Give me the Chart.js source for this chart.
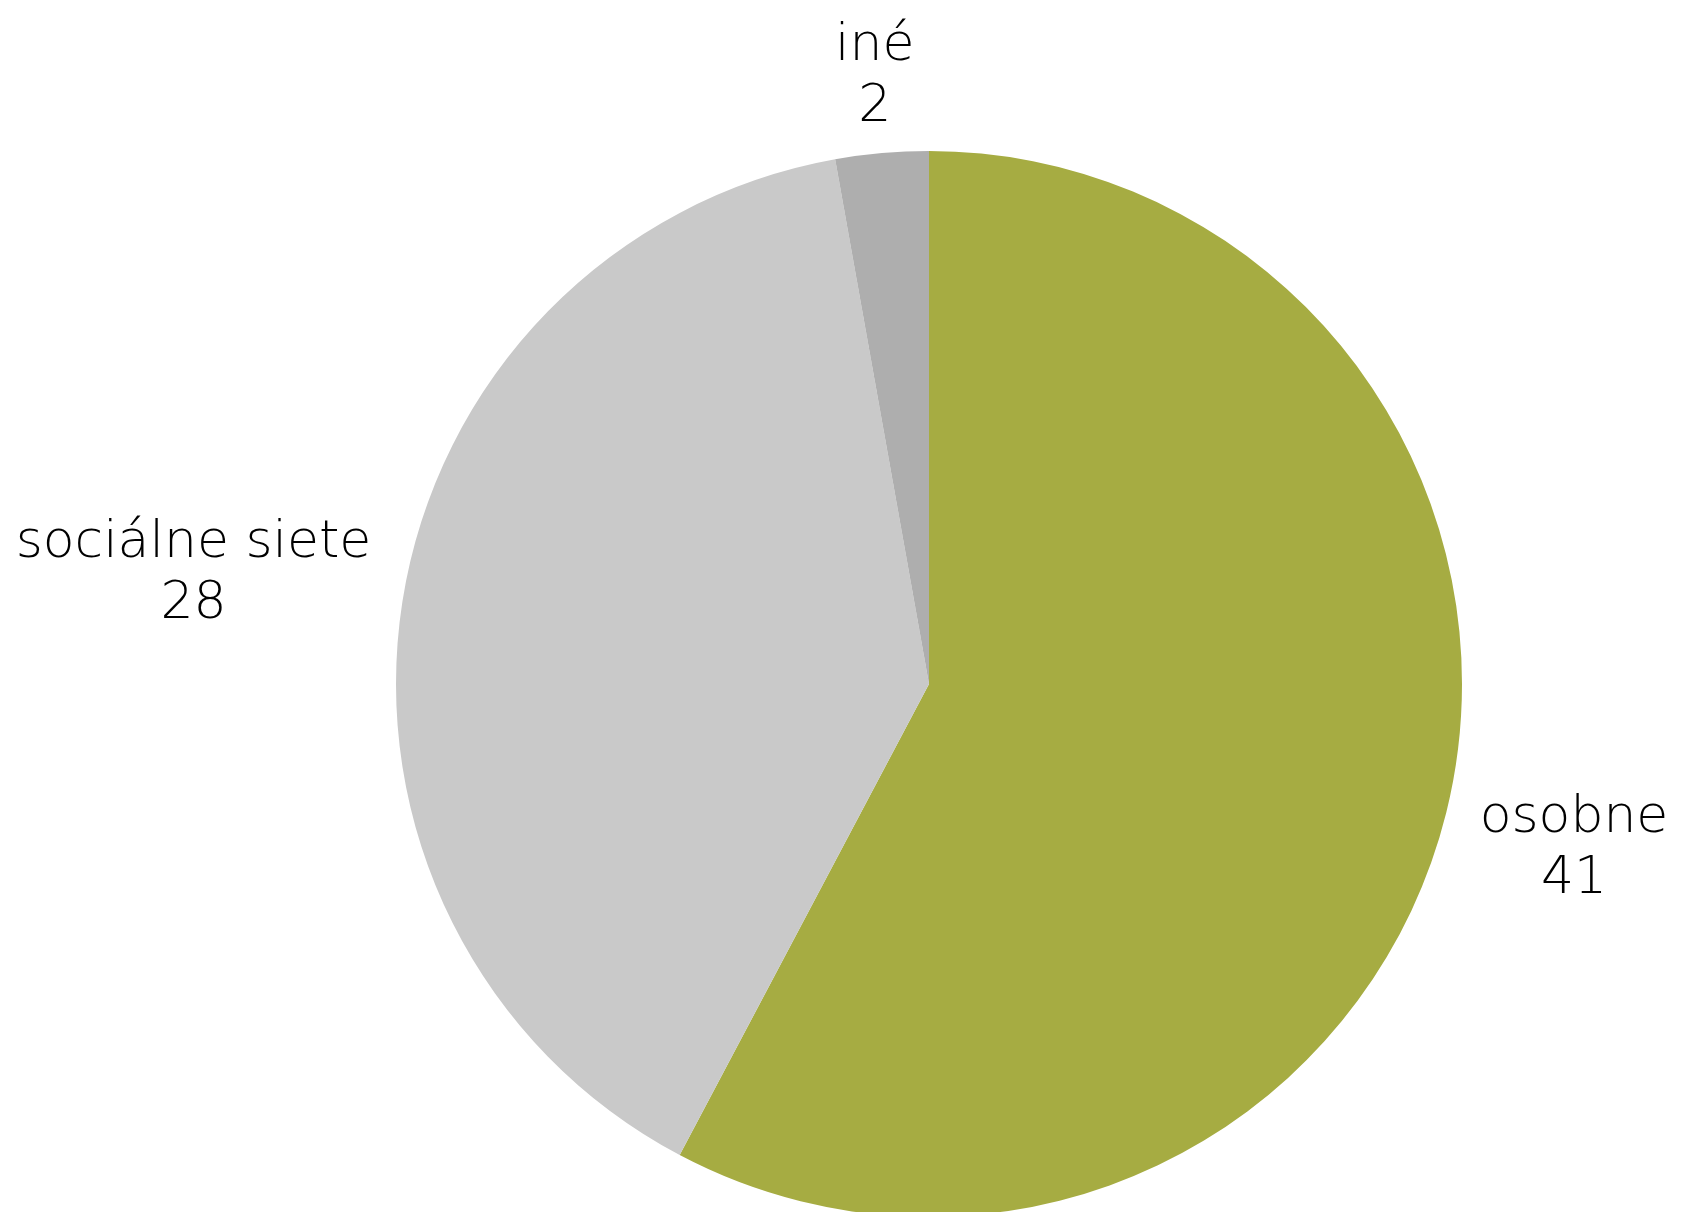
<!DOCTYPE html>
<html>
<head>
<meta charset="utf-8">
<script src="https://cdn.jsdelivr.net/npm/chart.js@4.4.0/dist/chart.umd.min.js"></script>
<style>
  html, body { margin: 0; padding: 0; background: #fff; overflow: hidden; }
  #wrap { width: 1682px; height: 1230px; }
</style>
</head>
<body>
<div id="wrap"><canvas id="graf" width="1682" height="1230"></canvas></div>
<script>
const kategorie = ['osobne', 'sociálne siete', 'iné'];
const hodnoty = [41, 28, 2];
const farby = ['#A6AC42', '#C9C9C9', '#AEAEAE'];

const fontLabel = '200 52px "DejaVu Sans", "Open Sans", sans-serif';

// popisky mimo kolac (nazov + hodnota)
const popiskyPlugin = {
    id: 'popisky',
    afterDatasetsDraw(chart) {
        const ctx = chart.ctx;
        const meta = chart.getDatasetMeta(0);
        ctx.save();
        ctx.font = fontLabel;
        ctx.fillStyle = '#000';
        ctx.textAlign = 'center';
        ctx.textBaseline = 'middle';
        const lineH = 61;
        meta.data.forEach((arc, i) => {
            const p = arc.getProps(['x', 'y', 'startAngle', 'endAngle', 'outerRadius'], true);
            const mid = (p.startAngle + p.endAngle) / 2;
            const lines = [kategorie[i], String(hodnoty[i])];
            const w = Math.max(...lines.map(l => ctx.measureText(l).width));
            const h = 100;
            const c = Math.cos(mid), s = Math.sin(mid);
            const ext = Math.abs(c) * w / 2 + Math.abs(s) * h / 2;
            const d = p.outerRadius + ext + 28;
            const cx = p.x + c * d;
            const cy = p.y + s * d + 5;
            ctx.fillText(lines[0], cx, cy - lineH / 2);
            ctx.fillText(lines[1], cx, cy + lineH / 2);
        });
        ctx.restore();
    }
};

new Chart(document.getElementById('graf').getContext('2d'), {
    type: 'pie',
    data: {
        labels: kategorie,
        datasets: [{
            data: hodnoty,
            backgroundColor: farby,
            borderWidth: 0
        }]
    },
    options: {
        responsive: false,
        animation: false,
        devicePixelRatio: 1,
        layout: { padding: { left: 396, right: 220, top: 151, bottom: 13 } },
        plugins: {
            legend: { display: false },
            tooltip: { enabled: false }
        }
    },
    plugins: [popiskyPlugin]
});
</script>
</body>
</html>
